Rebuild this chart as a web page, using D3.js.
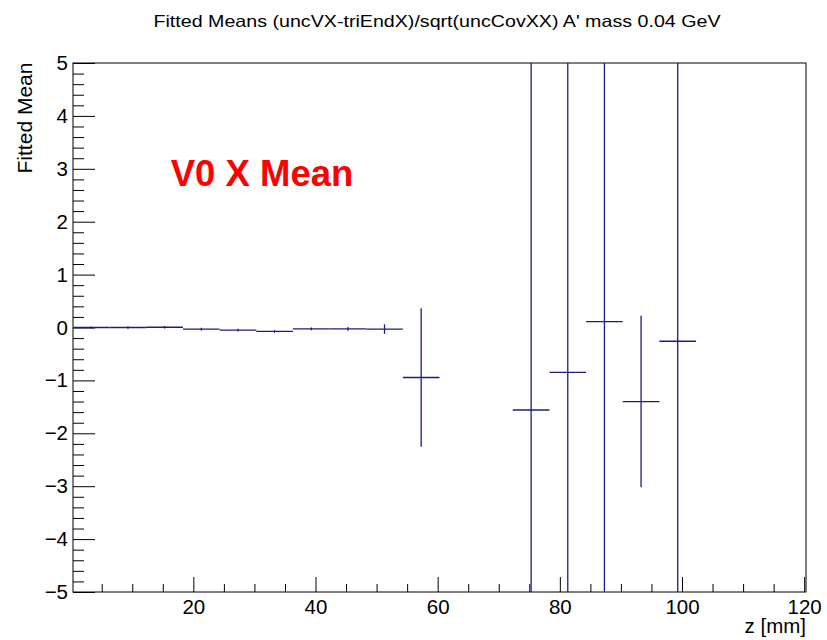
<!DOCTYPE html>
<html>
<head>
<meta charset="utf-8">
<script src="https://cdn.jsdelivr.net/npm/d3@7"></script>
<style>
  body { margin: 0; background: #fff; }
  text { font-family: "Liberation Sans", Arial, Helvetica, sans-serif; }
</style>
</head>
<body>
<div id="chart"></div>
<script>
// fitted means per z bin (bin width 6 mm)
const zCenters = [3.3, 9.3, 15.3, 21.3, 27.3, 33.3, 39.3, 45.3, 51.3, 57.3, 75.3, 81.3, 87.3, 93.3, 99.3];
const zErrors  = [3, 3, 3, 3, 3, 3, 3, 3, 3, 3, 3, 3, 3, 3, 3];
const means    = [0.00, 0.00, 0.005, -0.03, -0.05, -0.075, -0.025, -0.025, -0.03, -0.945, -1.56, -0.85, 0.11, -1.40, -0.26];
const meanErrs = [0.02, 0.025, 0.025, 0.025, 0.025, 0.025, 0.025, 0.035, 0.09, 1.31, 9, 8, 10, 1.62, 7];

const xMajor = [20, 40, 60, 80, 100, 120];
const yMajor = [-5, -4, -3, -2, -1, 0, 1, 2, 3, 4, 5];

const titleText = "Fitted Means (uncVX-triEndX)/sqrt(uncCovXX) A' mass 0.04 GeV";

const w = 827, h = 640;
const margin = {top: 63, right: 21, bottom: 48, left: 73};
const width = w - margin.left - margin.right;
const height = h - margin.top - margin.bottom;

const svg = d3.select("#chart").append("svg")
    .attr("width", w)
    .attr("height", h);

const chart = svg.append("g")
    .attr("transform", "translate(" + margin.left + "," + margin.top + ")");

const x = d3.scaleLinear().domain([0.3, 120.3]).range([0, width]);
const y = d3.scaleLinear().domain([-5, 5]).range([height, 0]);

const xMinor = d3.range(5, 121, 5).filter(v => v % 20 !== 0);
const yMinor = d3.range(-50, 51, 2).map(v => v / 10).filter(v => !Number.isInteger(v));

// x axis (ticks inside, ROOT style)
chart.append("g")
    .attr("class", "axis")
    .attr("transform", "translate(0," + height + ")")
    .call(d3.axisBottom(x).tickValues(xMajor).tickSize(-15).tickPadding(7))
    .call(g => g.selectAll("text").attr("font-size", 20.5).attr("fill", "#000"));
chart.append("g")
    .attr("transform", "translate(0," + height + ")")
    .call(d3.axisBottom(x).tickValues(xMinor).tickSize(-8).tickFormat(""));

// y axis
chart.append("g")
    .call(d3.axisLeft(y).tickValues(yMajor).tickSize(-22).tickPadding(5))
    .call(g => g.selectAll("text").attr("font-size", 20.5).attr("fill", "#000"));
chart.append("g")
    .call(d3.axisLeft(y).tickValues(yMinor).tickSize(-11).tickFormat(""));

chart.selectAll(".domain").remove();
chart.selectAll(".tick line").attr("stroke", "#000");

// frame
chart.append("rect")
    .attr("width", width)
    .attr("height", height)
    .attr("fill", "none")
    .attr("stroke", "#000")
    .attr("stroke-width", 1);

chart.append("clipPath")
    .attr("id", "clip")
  .append("rect")
    .attr("width", width)
    .attr("height", height);

const data = zCenters.map((z, i) => ({z: z, ez: zErrors[i], m: means[i], em: meanErrs[i]}));

const pts = chart.append("g")
    .attr("clip-path", "url(#clip)")
    .attr("stroke", "#1c1c7e")
    .attr("stroke-width", 1.3);

pts.selectAll(".xerr")
    .data(data)
  .enter().append("line")
    .attr("class", "xerr")
    .attr("x1", d => x(d.z - d.ez))
    .attr("x2", d => x(d.z + d.ez))
    .attr("y1", d => y(d.m))
    .attr("y2", d => y(d.m));

pts.selectAll(".yerr")
    .data(data)
  .enter().append("line")
    .attr("class", "yerr")
    .attr("x1", d => x(d.z))
    .attr("x2", d => x(d.z))
    .attr("y1", d => y(d.m - d.em))
    .attr("y2", d => y(d.m + d.em));

// axis titles
svg.append("text")
    .attr("x", margin.left + width)
    .attr("y", 633)
    .attr("text-anchor", "end")
    .attr("font-size", 20.5)
    .text("z [mm]");

svg.append("text")
    .attr("transform", "translate(31.5,118) rotate(-90)")
    .attr("text-anchor", "middle")
    .attr("font-size", 20.5)
    .attr("textLength", 111)
    .attr("lengthAdjust", "spacingAndGlyphs")
    .text("Fitted Mean");

svg.append("text")
    .attr("x", 437)
    .attr("y", 27)
    .attr("text-anchor", "middle")
    .attr("font-size", 16.5)
    .attr("textLength", 567)
    .attr("lengthAdjust", "spacingAndGlyphs")
    .text(titleText);

chart.append("text")
    .attr("x", x(16.3))
    .attr("y", 185.7 - margin.top)
    .attr("font-size", 36.5)
    .attr("font-weight", "bold")
    .attr("fill", "#ff0000")
    .text("V0 X Mean");
</script>
</body>
</html>
